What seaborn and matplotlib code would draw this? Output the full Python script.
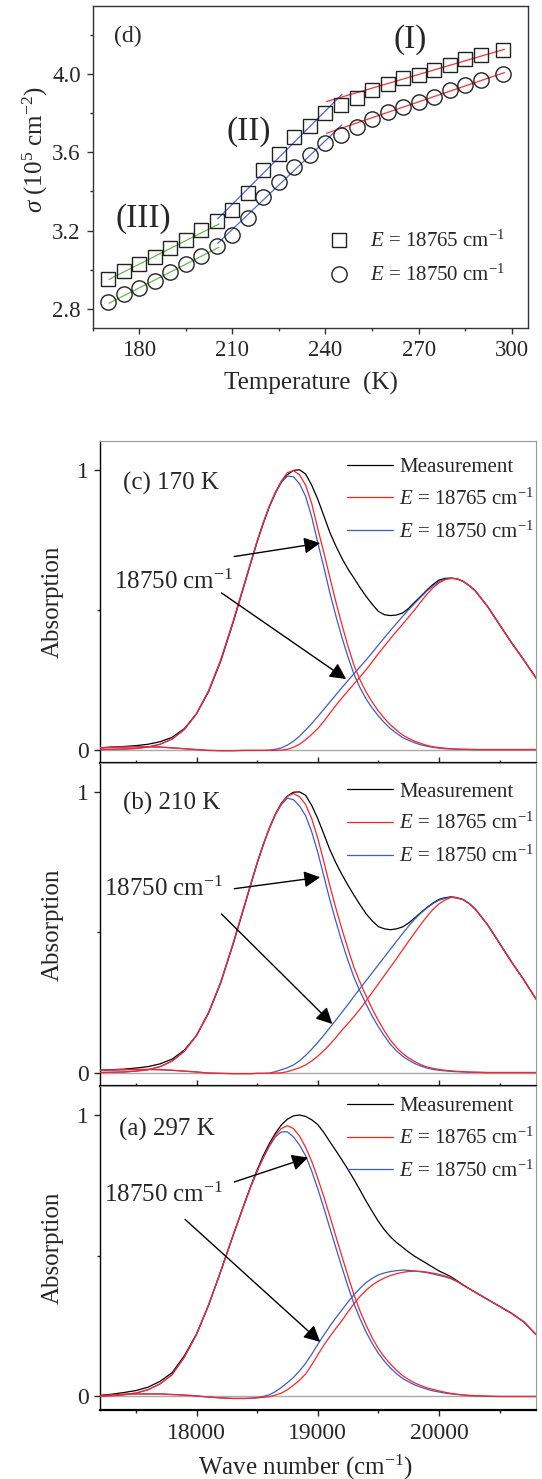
import numpy as np
import pandas as pd
import matplotlib
matplotlib.use('Agg')
import matplotlib.pyplot as plt
import seaborn as sns
from matplotlib.ticker import MultipleLocator, FormatStrFormatter, FixedLocator

sns.set_style('ticks')
plt.rcParams['font.family'] = ['Liberation Serif', 'DejaVu Serif']
plt.rcParams['mathtext.fontset'] = 'custom'
plt.rcParams['mathtext.rm'] = 'Liberation Serif'
plt.rcParams['mathtext.it'] = 'Liberation Serif:italic'
plt.rcParams['mathtext.bf'] = 'Liberation Serif:bold'

# ---- panel (d): sigma vs temperature ----
temp_K = [170, 175, 180, 185, 190, 195, 200, 205, 210, 215, 220, 225, 230,
          235, 240, 245, 250, 255, 260, 265, 270, 275, 280, 285, 290, 297]
sigma_18765 = [2.951, 2.996, 3.028, 3.066, 3.111, 3.152, 3.202, 3.249, 3.307,
               3.394, 3.508, 3.593, 3.677, 3.736, 3.799, 3.840, 3.879, 3.918,
               3.949, 3.978, 3.993, 4.020, 4.044, 4.078, 4.097, 4.123]
sigma_18750 = [2.834, 2.875, 2.907, 2.945, 2.991, 3.031, 3.071, 3.123, 3.180,
               3.263, 3.370, 3.449, 3.527, 3.586, 3.649, 3.689, 3.731, 3.770,
               3.806, 3.833, 3.859, 3.884, 3.918, 3.944, 3.969, 4.000]

# linear fits in the three regions (end points)
fit_T_III, fit_sq_III, fit_ci_III = [170.3, 205.7], [2.951, 3.234], [2.829, 3.115]
fit_T_II, fit_sq_II, fit_ci_II = [205.3, 245.3], [3.260, 3.896], [3.135, 3.740]
fit_T_I, fit_sq_I, fit_ci_I = [240.3, 297.6], [3.859, 4.126], [3.697, 4.007]

# ---- panels (a)-(c): absorption spectra ----
# sampled every 100 cm-1 on the flanks, every 50 cm-1 through the peaks
wavenumber = (list(range(17200, 18401, 100)) + list(range(18450, 20251, 50))
              + list(range(20300, 20801, 100)))

meas_170 = [0.006, 0.009, 0.011, 0.014, 0.019, 0.028, 0.044, 0.075, 0.128, 0.207, 0.316, 0.451, 0.597,
            0.670, 0.742, 0.807, 0.867, 0.917, 0.958, 0.983, 0.998, 1.000, 0.985, 0.945, 0.895,
            0.836, 0.776, 0.727, 0.683, 0.645, 0.612, 0.578, 0.547, 0.519, 0.494, 0.482, 0.479,
            0.481, 0.488, 0.505, 0.527, 0.548, 0.570, 0.590, 0.606, 0.612, 0.613, 0.610, 0.601, 0.586,
            0.567, 0.512, 0.446, 0.381, 0.320, 0.256]
red1_170 = [0.000, 0.001, 0.002, 0.004, 0.009, 0.019, 0.038, 0.072, 0.128, 0.210, 0.320, 0.455, 0.600,
            0.673, 0.745, 0.810, 0.870, 0.920, 0.960, 0.990, 0.997, 0.982, 0.945, 0.880, 0.790,
            0.705, 0.615, 0.527, 0.445, 0.369, 0.300, 0.248, 0.205, 0.169, 0.138, 0.111, 0.088,
            0.069, 0.052, 0.040, 0.030, 0.022, 0.015, 0.010, 0.007, 0.005, 0.003, 0.002, 0.001, 0.001,
            0, 0, 0, 0, 0, 0]
blue1_170 = [0.000, 0.001, 0.002, 0.004, 0.009, 0.019, 0.038, 0.072, 0.128, 0.210, 0.320, 0.455, 0.600,
             0.673, 0.745, 0.810, 0.868, 0.915, 0.955, 0.978, 0.975, 0.950, 0.905, 0.832, 0.740,
             0.652, 0.560, 0.477, 0.400, 0.330, 0.268, 0.220, 0.180, 0.148, 0.120, 0.096, 0.075,
             0.058, 0.043, 0.033, 0.024, 0.017, 0.012, 0.008, 0.005, 0.003, 0.002, 0.001, 0.001, 0,
             0, 0, 0, 0, 0, 0]
red2_170 = [0.006, 0.008, 0.009, 0.010, 0.010, 0.009, 0.006, 0.003, 0.000, -0.003, -0.004, -0.004, -0.003,
            -0.003, -0.003, -0.003, -0.003, -0.003, -0.002, 0.001, 0.008, 0.019, 0.035, 0.054, 0.075,
            0.101, 0.130, 0.158, 0.185, 0.210, 0.235, 0.260, 0.286, 0.314, 0.343, 0.370, 0.397,
            0.423, 0.448, 0.474, 0.500, 0.528, 0.555, 0.578, 0.596, 0.607, 0.612, 0.610, 0.601, 0.586,
            0.567, 0.512, 0.446, 0.381, 0.320, 0.256]
blue2_170 = [0.006, 0.008, 0.009, 0.010, 0.010, 0.009, 0.006, 0.003, 0.000, -0.003, -0.004, -0.004, -0.003,
             -0.003, -0.003, -0.003, -0.002, 0.001, 0.006, 0.016, 0.030, 0.048, 0.070, 0.093, 0.118,
             0.144, 0.170, 0.196, 0.222, 0.247, 0.272, 0.296, 0.321, 0.347, 0.374, 0.400, 0.426,
             0.451, 0.476, 0.500, 0.523, 0.545, 0.567, 0.585, 0.600, 0.609, 0.613, 0.610, 0.601, 0.586,
             0.567, 0.512, 0.446, 0.381, 0.320, 0.256]

meas_210 = [0.008, 0.010, 0.012, 0.016, 0.021, 0.031, 0.048, 0.080, 0.132, 0.212, 0.320, 0.455, 0.600,
            0.673, 0.745, 0.810, 0.870, 0.920, 0.960, 0.985, 0.999, 1.000, 0.988, 0.952, 0.905,
            0.850, 0.794, 0.747, 0.705, 0.667, 0.631, 0.597, 0.565, 0.540, 0.520, 0.512, 0.509,
            0.512, 0.519, 0.533, 0.551, 0.570, 0.588, 0.604, 0.617, 0.623, 0.626, 0.623, 0.616, 0.602,
            0.582, 0.527, 0.460, 0.393, 0.330, 0.262]
red1_210 = [0.000, 0.001, 0.002, 0.005, 0.010, 0.021, 0.041, 0.076, 0.132, 0.214, 0.322, 0.457, 0.602,
            0.675, 0.747, 0.812, 0.870, 0.920, 0.958, 0.985, 0.994, 0.983, 0.955, 0.905, 0.835,
            0.752, 0.665, 0.585, 0.510, 0.440, 0.373, 0.320, 0.272, 0.226, 0.185, 0.148, 0.115,
            0.089, 0.068, 0.052, 0.039, 0.028, 0.020, 0.015, 0.011, 0.008, 0.006, 0.004, 0.003, 0.002,
            0.001, 0, 0, 0, 0, 0]
blue1_210 = [0.000, 0.001, 0.002, 0.005, 0.010, 0.021, 0.041, 0.076, 0.132, 0.214, 0.322, 0.457, 0.602,
             0.675, 0.747, 0.812, 0.868, 0.918, 0.955, 0.978, 0.972, 0.950, 0.915, 0.858, 0.785,
             0.700, 0.615, 0.538, 0.465, 0.398, 0.338, 0.288, 0.243, 0.200, 0.163, 0.130, 0.100,
             0.077, 0.058, 0.044, 0.032, 0.023, 0.016, 0.011, 0.008, 0.006, 0.004, 0.003, 0.002, 0.001,
             0.001, 0, 0, 0, 0, 0]
red2_210 = [0.008, 0.009, 0.010, 0.011, 0.011, 0.010, 0.008, 0.005, 0.002, -0.002, -0.003, -0.004, -0.004,
            -0.004, -0.003, -0.003, -0.003, -0.002, -0.001, 0.003, 0.010, 0.017, 0.027, 0.041, 0.058,
            0.078, 0.100, 0.125, 0.151, 0.175, 0.200, 0.227, 0.256, 0.286, 0.316, 0.346, 0.376,
            0.406, 0.437, 0.468, 0.498, 0.528, 0.556, 0.581, 0.601, 0.615, 0.624, 0.622, 0.616, 0.602,
            0.582, 0.527, 0.460, 0.393, 0.330, 0.262]
blue2_210 = [0.008, 0.009, 0.010, 0.011, 0.011, 0.010, 0.008, 0.005, 0.002, -0.002, -0.003, -0.004, -0.004,
             -0.004, -0.003, -0.003, -0.002, 0.003, 0.010, 0.017, 0.027, 0.042, 0.061, 0.083, 0.107,
             0.133, 0.160, 0.187, 0.215, 0.243, 0.272, 0.300, 0.328, 0.356, 0.384, 0.412, 0.440,
             0.468, 0.495, 0.522, 0.547, 0.568, 0.586, 0.602, 0.614, 0.621, 0.625, 0.622, 0.616, 0.602,
             0.582, 0.527, 0.460, 0.393, 0.330, 0.262]

meas_297 = [0.004, 0.008, 0.014, 0.021, 0.033, 0.054, 0.085, 0.145, 0.222, 0.325, 0.445, 0.570, 0.692,
            0.750, 0.805, 0.855, 0.898, 0.935, 0.965, 0.985, 0.997, 1.000, 0.995, 0.983, 0.966,
            0.938, 0.905, 0.873, 0.840, 0.806, 0.770, 0.732, 0.693, 0.657, 0.622, 0.592, 0.567,
            0.547, 0.530, 0.513, 0.498, 0.485, 0.472, 0.459, 0.446, 0.436, 0.425, 0.411, 0.396, 0.383,
            0.370, 0.345, 0.320, 0.295, 0.265, 0.220]
red1_297 = [0.001, 0.003, 0.006, 0.012, 0.024, 0.045, 0.078, 0.140, 0.220, 0.325, 0.445, 0.570, 0.690,
            0.748, 0.800, 0.848, 0.890, 0.928, 0.952, 0.962, 0.952, 0.925, 0.885, 0.836, 0.775,
            0.710, 0.640, 0.568, 0.497, 0.427, 0.360, 0.302, 0.252, 0.208, 0.170, 0.140, 0.115,
            0.093, 0.074, 0.060, 0.048, 0.039, 0.031, 0.025, 0.020, 0.015, 0.011, 0.008, 0.006, 0.004,
            0.003, 0.001, 0, 0, 0, 0]
blue1_297 = [0.001, 0.003, 0.006, 0.012, 0.024, 0.045, 0.078, 0.140, 0.220, 0.325, 0.445, 0.570, 0.690,
             0.748, 0.800, 0.847, 0.888, 0.922, 0.940, 0.940, 0.922, 0.893, 0.855, 0.801, 0.738,
             0.670, 0.598, 0.528, 0.458, 0.390, 0.328, 0.275, 0.228, 0.188, 0.153, 0.125, 0.101,
             0.081, 0.064, 0.052, 0.041, 0.033, 0.026, 0.020, 0.016, 0.012, 0.009, 0.007, 0.005, 0.003,
             0.002, 0.001, 0, 0, 0, 0]
red2_297 = [0.003, 0.005, 0.008, 0.009, 0.009, 0.009, 0.007, 0.005, 0.002, -0.002, -0.005, -0.007, -0.007,
            -0.006, -0.005, -0.003, -0.001, 0.005, 0.012, 0.024, 0.040, 0.058, 0.080, 0.112, 0.148,
            0.182, 0.213, 0.242, 0.270, 0.301, 0.330, 0.356, 0.378, 0.396, 0.410, 0.421, 0.430,
            0.436, 0.441, 0.444, 0.445, 0.444, 0.442, 0.438, 0.434, 0.428, 0.420, 0.409, 0.396, 0.383,
            0.370, 0.345, 0.320, 0.295, 0.265, 0.220]
blue2_297 = [0.003, 0.005, 0.008, 0.009, 0.009, 0.009, 0.007, 0.005, 0.002, -0.002, -0.005, -0.007, -0.007,
             -0.006, -0.004, 0.000, 0.006, 0.017, 0.032, 0.049, 0.068, 0.091, 0.118, 0.150, 0.185,
             0.218, 0.250, 0.280, 0.308, 0.336, 0.362, 0.385, 0.405, 0.420, 0.432, 0.439, 0.444,
             0.447, 0.449, 0.448, 0.446, 0.443, 0.440, 0.435, 0.430, 0.425, 0.418, 0.408, 0.395, 0.383,
             0.370, 0.345, 0.320, 0.295, 0.265, 0.220]

# annotation positions (wavenumber, absorption)
label_pos = {'170': (17391, 0.952), '210': (17391, 0.958), '297': (17360, 0.950)}
text_pos = {'170': (17320, 0.600), '210': (17234, 0.655), '297': (17234, 0.718)}
arrow_up = {'170': [(18311, 0.690), (19020, 0.738)],
            '210': [(18311, 0.655), (19020, 0.696)],
            '297': [(18311, 0.762), (18920, 0.849)]}
arrow_low = {'170': [(18206, 0.560), (19234, 0.252)],
             '210': [(18206, 0.565), (19120, 0.173)],
             '297': [(17906, 0.629), (19020, 0.194)]}
legend_y = {'170': 0.817, '210': 0.810, '297': 0.836}

RED = '#ff2424'
BLUE = '#3c5cc8'
W, H = 542, 1479

fig = plt.figure(figsize=(W / 100, H / 100), dpi=100)


def frac(left, top, right, bottom):
    return [left / W, 1 - bottom / H, (right - left) / W, (bottom - top) / H]


# ================= panel (d) =================
ax = fig.add_axes(frac(92.5, 6, 528, 328))
sns.lineplot(x=fit_T_III, y=fit_sq_III, color='#66bb44', lw=0.9, ax=ax, estimator=None)
sns.lineplot(x=fit_T_III, y=fit_ci_III, color='#66bb44', lw=0.9, ax=ax, estimator=None)
sns.lineplot(x=fit_T_II, y=fit_sq_II, color='#4a6ad0', lw=0.9, ax=ax, estimator=None)
sns.lineplot(x=fit_T_II, y=fit_ci_II, color='#4a6ad0', lw=0.9, ax=ax, estimator=None)
sns.lineplot(x=fit_T_I, y=fit_sq_I, color='#ff3030', lw=0.9, ax=ax, estimator=None)
sns.lineplot(x=fit_T_I, y=fit_ci_I, color='#ff3030', lw=0.9, ax=ax, estimator=None)
sns.lineplot(x=temp_K, y=sigma_18765, marker='s', linestyle='', markersize=10,
             markerfacecolor='none', markeredgecolor='#222222', markeredgewidth=1.0,
             color='#222222', estimator=None, ax=ax, label=r'$E$ = 18765 cm$^{-1}$')
sns.lineplot(x=temp_K, y=sigma_18750, marker='o', linestyle='', markersize=11,
             markerfacecolor='none', markeredgecolor='#222222', markeredgewidth=1.0,
             color='#222222', estimator=None, ax=ax, label=r'$E$ = 18750 cm$^{-1}$')
ax.set_xlim(165, 305.2)
ax.set_ylim(2.703, 4.347)
ax.xaxis.set_major_locator(MultipleLocator(30))
ax.xaxis.set_minor_locator(MultipleLocator(15))
ax.yaxis.set_major_locator(MultipleLocator(0.4))
ax.yaxis.set_minor_locator(MultipleLocator(0.2))
ax.yaxis.set_major_formatter(FormatStrFormatter('%.1f'))
ax.tick_params(which='major', direction='out', length=4.5, width=1, labelsize=16.5,
               pad=4, color='#333333')
ax.tick_params(which='minor', direction='out', length=2.5, width=1, color='#333333')
for sp in ax.spines.values():
    sp.set_color('#333333')
    sp.set_linewidth(1.0)
ax.set_xlabel('Temperature  (K)', fontsize=18)
ax.set_ylabel(r'$\sigma$ (10$^5$ cm$^{-2}$)', fontsize=18)
ax.xaxis.set_label_coords(0.501, -0.135)
ax.yaxis.set_label_coords(-0.097, 0.553)
ax.text(171.9, 4.19, '(d)', fontsize=17, va='center', ha='left')
ax.text(267.2, 4.174, '(I)', fontsize=24, va='center', ha='center')
ax.text(215.2, 3.705, '(II)', fontsize=24, va='center', ha='center')
ax.text(181.4, 3.263, '(III)', fontsize=24, va='center', ha='center')
ax.legend(loc='center left', bbox_to_anchor=(0.540, 0.216), frameon=False,
          fontsize=15, handlelength=1.05, handletextpad=1.0, labelspacing=0.6,
          borderpad=0, borderaxespad=0)

# ================= panels (c), (b), (a) =================
panels = [
    ('170', '(c) 170 K', meas_170, red1_170, red2_170, blue1_170, blue2_170, (441, 763)),
    ('210', '(b) 210 K', meas_210, red1_210, red2_210, blue1_210, blue2_210, (763, 1086)),
    ('297', '(a) 297 K', meas_297, red1_297, red2_297, blue1_297, blue2_297, (1086, 1410)),
]

for i, (key, title, meas, r1, r2, b1, b2, (top, bot)) in enumerate(panels):
    ax = fig.add_axes(frac(99.5, top, 536, bot))
    ax.axhline(0, color='#aaaaaa', lw=1.0, zorder=1)
    sns.lineplot(x=wavenumber, y=meas, color='black', lw=0.9, ax=ax,
                 estimator=None, label='Measurement', zorder=2)
    sns.lineplot(x=wavenumber, y=b1, color=BLUE, lw=0.9, ax=ax, estimator=None,
                 label=r'$E$ = 18750 cm$^{-1}$', zorder=3)
    sns.lineplot(x=wavenumber, y=b2, color=BLUE, lw=0.9, ax=ax, estimator=None, zorder=3)
    sns.lineplot(x=wavenumber, y=r1, color=RED, lw=0.9, ax=ax, estimator=None,
                 label=r'$E$ = 18765 cm$^{-1}$', zorder=4)
    sns.lineplot(x=wavenumber, y=r2, color=RED, lw=0.9, ax=ax, estimator=None, zorder=4)

    ax.set_xlim(17200, 20800)
    ax.set_ylim(-0.048, 1.103)
    ax.xaxis.set_major_locator(MultipleLocator(1000))
    ax.xaxis.set_minor_locator(MultipleLocator(500))
    ax.yaxis.set_major_locator(FixedLocator([0, 1]))
    ax.yaxis.set_minor_locator(FixedLocator([0.5]))
    ax.set_yticklabels(['0', '1'])
    last = i == len(panels) - 1
    ax.tick_params(axis='y', which='major', direction='out', length=4.5, width=1,
                   labelsize=17, pad=3)
    ax.tick_params(axis='y', which='minor', direction='out', length=2.5, width=1)
    ax.tick_params(axis='x', which='major', direction='out' if last else 'in',
                   length=4.5, width=1, labelsize=17, pad=5, labelbottom=last)
    ax.tick_params(axis='x', which='minor', direction='out' if last else 'in',
                   length=2.5, width=1)
    ax.spines['left'].set_color('black')
    ax.spines['left'].set_linewidth(1.0)
    ax.spines['bottom'].set_color('black')
    ax.spines['bottom'].set_linewidth(1.6)
    for s in ('top', 'right'):
        ax.spines[s].set_color('#999999')
        ax.spines[s].set_linewidth(0.8)

    ax.set_ylabel('Absorption', fontsize=18)
    ax.yaxis.set_label_coords(-0.081, 0.5)
    if last:
        ax.set_xlabel(r'Wave number (cm$^{-1}$)', fontsize=18)
        ax.xaxis.set_label_coords(0.472, -0.132)
    else:
        ax.set_xlabel('')

    ax.text(*label_pos[key], title, fontsize=18, ha='left', va='center')
    ax.text(*text_pos[key], r'18750 cm$^{-1}$', fontsize=18, ha='left', va='center')
    for (x0, y0), (x1, y1) in (arrow_up[key], arrow_low[key]):
        ax.annotate('', xy=(x1, y1), xytext=(x0, y0),
                    arrowprops=dict(arrowstyle='-|>,head_length=0.65,head_width=0.33',
                                    mutation_scale=15, color='black', lw=1.0,
                                    shrinkA=0, shrinkB=0), zorder=5)

    handles, labels = ax.get_legend_handles_labels()
    order = [labels.index('Measurement'), labels.index(r'$E$ = 18765 cm$^{-1}$'),
             labels.index(r'$E$ = 18750 cm$^{-1}$')]
    ax.legend([handles[j] for j in order], [labels[j] for j in order],
              loc='center left', bbox_to_anchor=(0.567, legend_y[key]), frameon=False,
              fontsize=15, handlelength=2.2, handletextpad=0.3, labelspacing=0.55,
              borderpad=0, borderaxespad=0)

fig.savefig('out.png', dpi=100)
